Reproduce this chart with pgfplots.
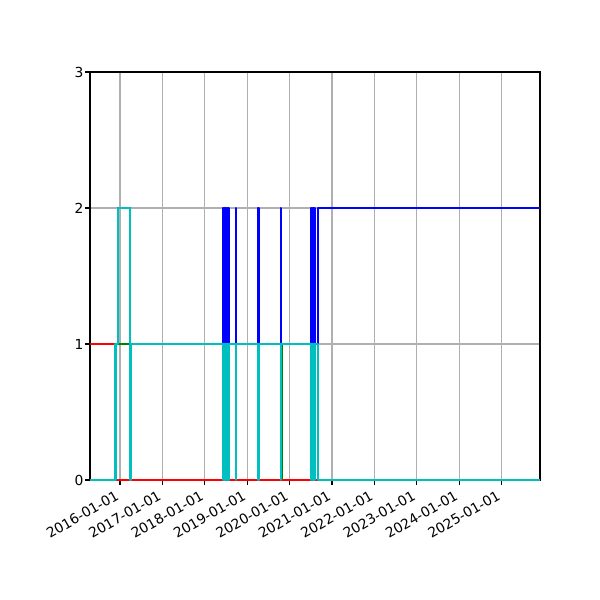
\documentclass[border=0pt]{standalone}
\usepackage{fontspec}
\setmainfont{DejaVu Sans}
\usepackage{pgfplots}
\pgfplotsset{compat=1.18}
\definecolor{mplgrid}{HTML}{B0B0B0}
\definecolor{mplcyan}{rgb}{0,0.75,0.75}
\definecolor{mplgreen}{rgb}{0,0.5,0}
\definecolor{mplred}{rgb}{1,0,0}
\definecolor{mplblue}{rgb}{0,0,1}
\begin{document}
\begin{tikzpicture}
\useasboundingbox (0,0) rectangle (433.62pt,433.62pt);
\begin{axis}[
  at={(65.04pt,86.72pt)}, anchor=south west, scale only axis,
  width=325.2pt, height=294.86pt,
  xmin=2015.292, xmax=2025.906, ymin=0, ymax=3,
  xtick={2016,2017,2018,2019,2020,2021,2022,2023,2024,2025},
  xticklabels={2016-01-01,2017-01-01,2018-01-01,2019-01-01,2020-01-01,2021-01-01,2022-01-01,2023-01-01,2024-01-01,2025-01-01},
  ytick={0,1,2,3},
  grid=major, major grid style={mplgrid, line width=0.8pt},
  axis line style={black, line width=0.8pt},
  tick style={black, line width=0.8pt},
  tick align=outside, major tick length=3.5pt, tick pos=left,
  ticklabel style={font=\fontsize{10}{12}\selectfont},
  /pgf/number format/assume math mode=true,
  xticklabel style={xshift=-3.5pt, yshift=-2pt, rotate=30, anchor=north east, inner sep=1pt},
  yticklabel style={inner sep=1pt},
  every axis plot/.append style={line width=1.5pt, line join=round},
]
% green
\addplot[mplgreen] coordinates {(2015.292,1) (2019.809,1) (2019.809,0) (2025.906,0)};
% blue
\addplot[mplblue] coordinates {
(2015.292,0) (2015.894,0) (2015.894,1) (2015.953,1) (2015.953,2) (2016.243,2) (2016.243,1)
(2018.429,1) (2018.429,2) (2018.437,2) (2018.437,1)
(2018.460,1) (2018.460,2) (2018.468,2) (2018.468,1)
(2018.491,1) (2018.491,2) (2018.499,2) (2018.499,1)
(2018.521,1) (2018.521,2) (2018.529,2) (2018.529,1)
(2018.552,1) (2018.552,2) (2018.560,2) (2018.560,1)
(2018.736,1) (2018.736,2) (2018.744,2) (2018.744,1)
(2019.262,1) (2019.262,2) (2019.270,2) (2019.270,1)
(2019.790,1) (2019.790,2) (2019.798,2) (2019.798,1)
(2020.500,1) (2020.500,2) (2020.508,2) (2020.508,1)
(2020.531,1) (2020.531,2) (2020.539,2) (2020.539,1)
(2020.561,1) (2020.561,2) (2020.569,2) (2020.569,1)
(2020.592,1) (2020.592,2) (2020.600,2) (2020.600,1)
(2020.675,1) (2020.675,2) (2025.906,2)};
% red
\addplot[mplred] coordinates {(2015.292,1) (2015.894,1) (2015.894,0) (2025.906,0)};
% cyan
\addplot[mplcyan] coordinates {
(2015.292,0) (2015.894,0) (2015.894,1) (2015.953,1) (2015.953,2) (2016.243,2) (2016.243,0) (2016.257,0) (2016.257,1)
(2018.429,1) (2018.429,0) (2018.437,0) (2018.437,1)
(2018.460,1) (2018.460,0) (2018.468,0) (2018.468,1)
(2018.491,1) (2018.491,0) (2018.499,0) (2018.499,1)
(2018.521,1) (2018.521,0) (2018.529,0) (2018.529,1)
(2018.552,1) (2018.552,0) (2018.560,0) (2018.560,1)
(2018.736,1) (2018.736,0) (2018.744,0) (2018.744,1)
(2019.262,1) (2019.262,0) (2019.270,0) (2019.270,1)
(2019.790,1) (2019.790,0) (2019.798,0) (2019.798,1)
(2020.500,1) (2020.500,0) (2020.508,0) (2020.508,1)
(2020.531,1) (2020.531,0) (2020.539,0) (2020.539,1)
(2020.561,1) (2020.561,0) (2020.569,0) (2020.569,1)
(2020.592,1) (2020.592,0) (2020.600,0) (2020.600,1)
(2020.675,1) (2020.675,0) (2025.906,0)};
\end{axis}
\end{tikzpicture}
\end{document}
